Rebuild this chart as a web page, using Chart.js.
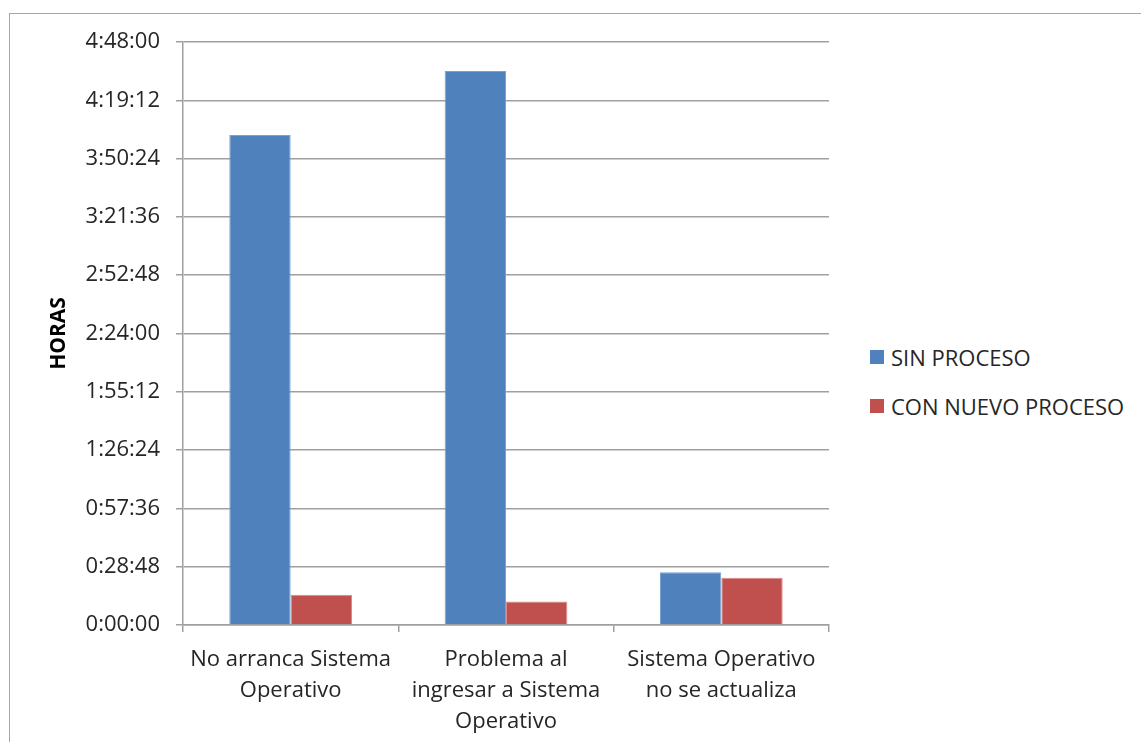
<!DOCTYPE html>
<html>
<head>
<meta charset="utf-8">
<script src="https://cdn.jsdelivr.net/npm/chart.js@4/dist/chart.umd.min.js"></script>
<style>
html,body{margin:0;padding:0;background:#fff;overflow:hidden}
body{width:1141px;height:742px;position:relative;font-family:"Open Sans",sans-serif}
#frame{position:absolute;left:9px;top:13px;width:1200px;height:800px;border:1.5px solid #a6a6a6;box-sizing:border-box}
#wrap{position:absolute;left:0;top:0;width:845px;height:742px}
#legend{position:absolute;left:870px;top:332px;color:#262626;font-size:22px}
.item{display:flex;align-items:center;height:49px}
.sw{width:14px;height:14px;margin-right:7px}
</style>
</head>
<body>
<div id="frame"></div>
<div id="wrap"><canvas id="chart"></canvas></div>
<div id="legend"></div>
<script>
/* ================= DATA ================= */
const categories=[
["No arranca Sistema","Operativo"],
["Problema al","ingresar a Sistema","Operativo"],
["Sistema Operativo","no se actualiza"]
];
const seriesNames=["SIN PROCESO","CON NUEVO PROCESO"];
// seconds
const sinProceso=[14520,16420,1560];
const conNuevo=[900,700,1400];
const yMax=17280, yStep=1728;
const colors=["#4F81BD","#C0504D"];

function hms(v){
let h=Math.floor(v/3600),m=Math.floor(v%3600/60),s=Math.round(v%60);
return h+":"+String(m).padStart(2,"0")+":"+String(s).padStart(2,"0");
}

const font="'Open Sans', sans-serif";
const grey="#a0a0a0";

new Chart(document.getElementById("chart"),{
type:'bar',
data:{
labels:categories,
datasets:[
{label:seriesNames[0],data:sinProceso,backgroundColor:colors[0],borderColor:"#7aa0d0",borderWidth:1,categoryPercentage:0.57,barPercentage:1},
{label:seriesNames[1],data:conNuevo,backgroundColor:colors[1],borderColor:"#d88a88",borderWidth:1,categoryPercentage:0.57,barPercentage:1}
]
},
options:{
responsive:true,
maintainAspectRatio:false,
animation:false,
layout:{padding:{top:42,right:16,left:0,bottom:0}},
plugins:{legend:{display:false},tooltip:{enabled:false}},
scales:{
x:{
afterFit:s=>{s.height=117},
grid:{display:true,drawOnChartArea:false,drawTicks:true,tickLength:7,color:grey,lineWidth:1.5},
border:{color:grey,width:1.5},
ticks:{color:"#262626",maxRotation:0,autoSkip:false,padding:12,font:{family:font,size:22,lineHeight:1.41}}
},
y:{
min:0,max:yMax,
afterFit:s=>{s.width=183},
grid:{color:grey,lineWidth:1.5,tickLength:7},
border:{color:grey,width:1.5},
ticks:{stepSize:yStep,color:"#262626",padding:16,font:{family:font,size:22},callback:v=>hms(v)},
title:{display:true,text:"HORAS",color:"#000",font:{family:font,size:21,weight:"bold"},padding:{top:46,bottom:0}}
}
}
}
});

/* ================= LEGEND ================= */
const legend=document.getElementById("legend");
seriesNames.forEach((n,i)=>{
legend.innerHTML+=`<div class="item"><div class="sw" style="background:${colors[i]}"></div>${n}</div>`;
});
</script>
</body>
</html>
